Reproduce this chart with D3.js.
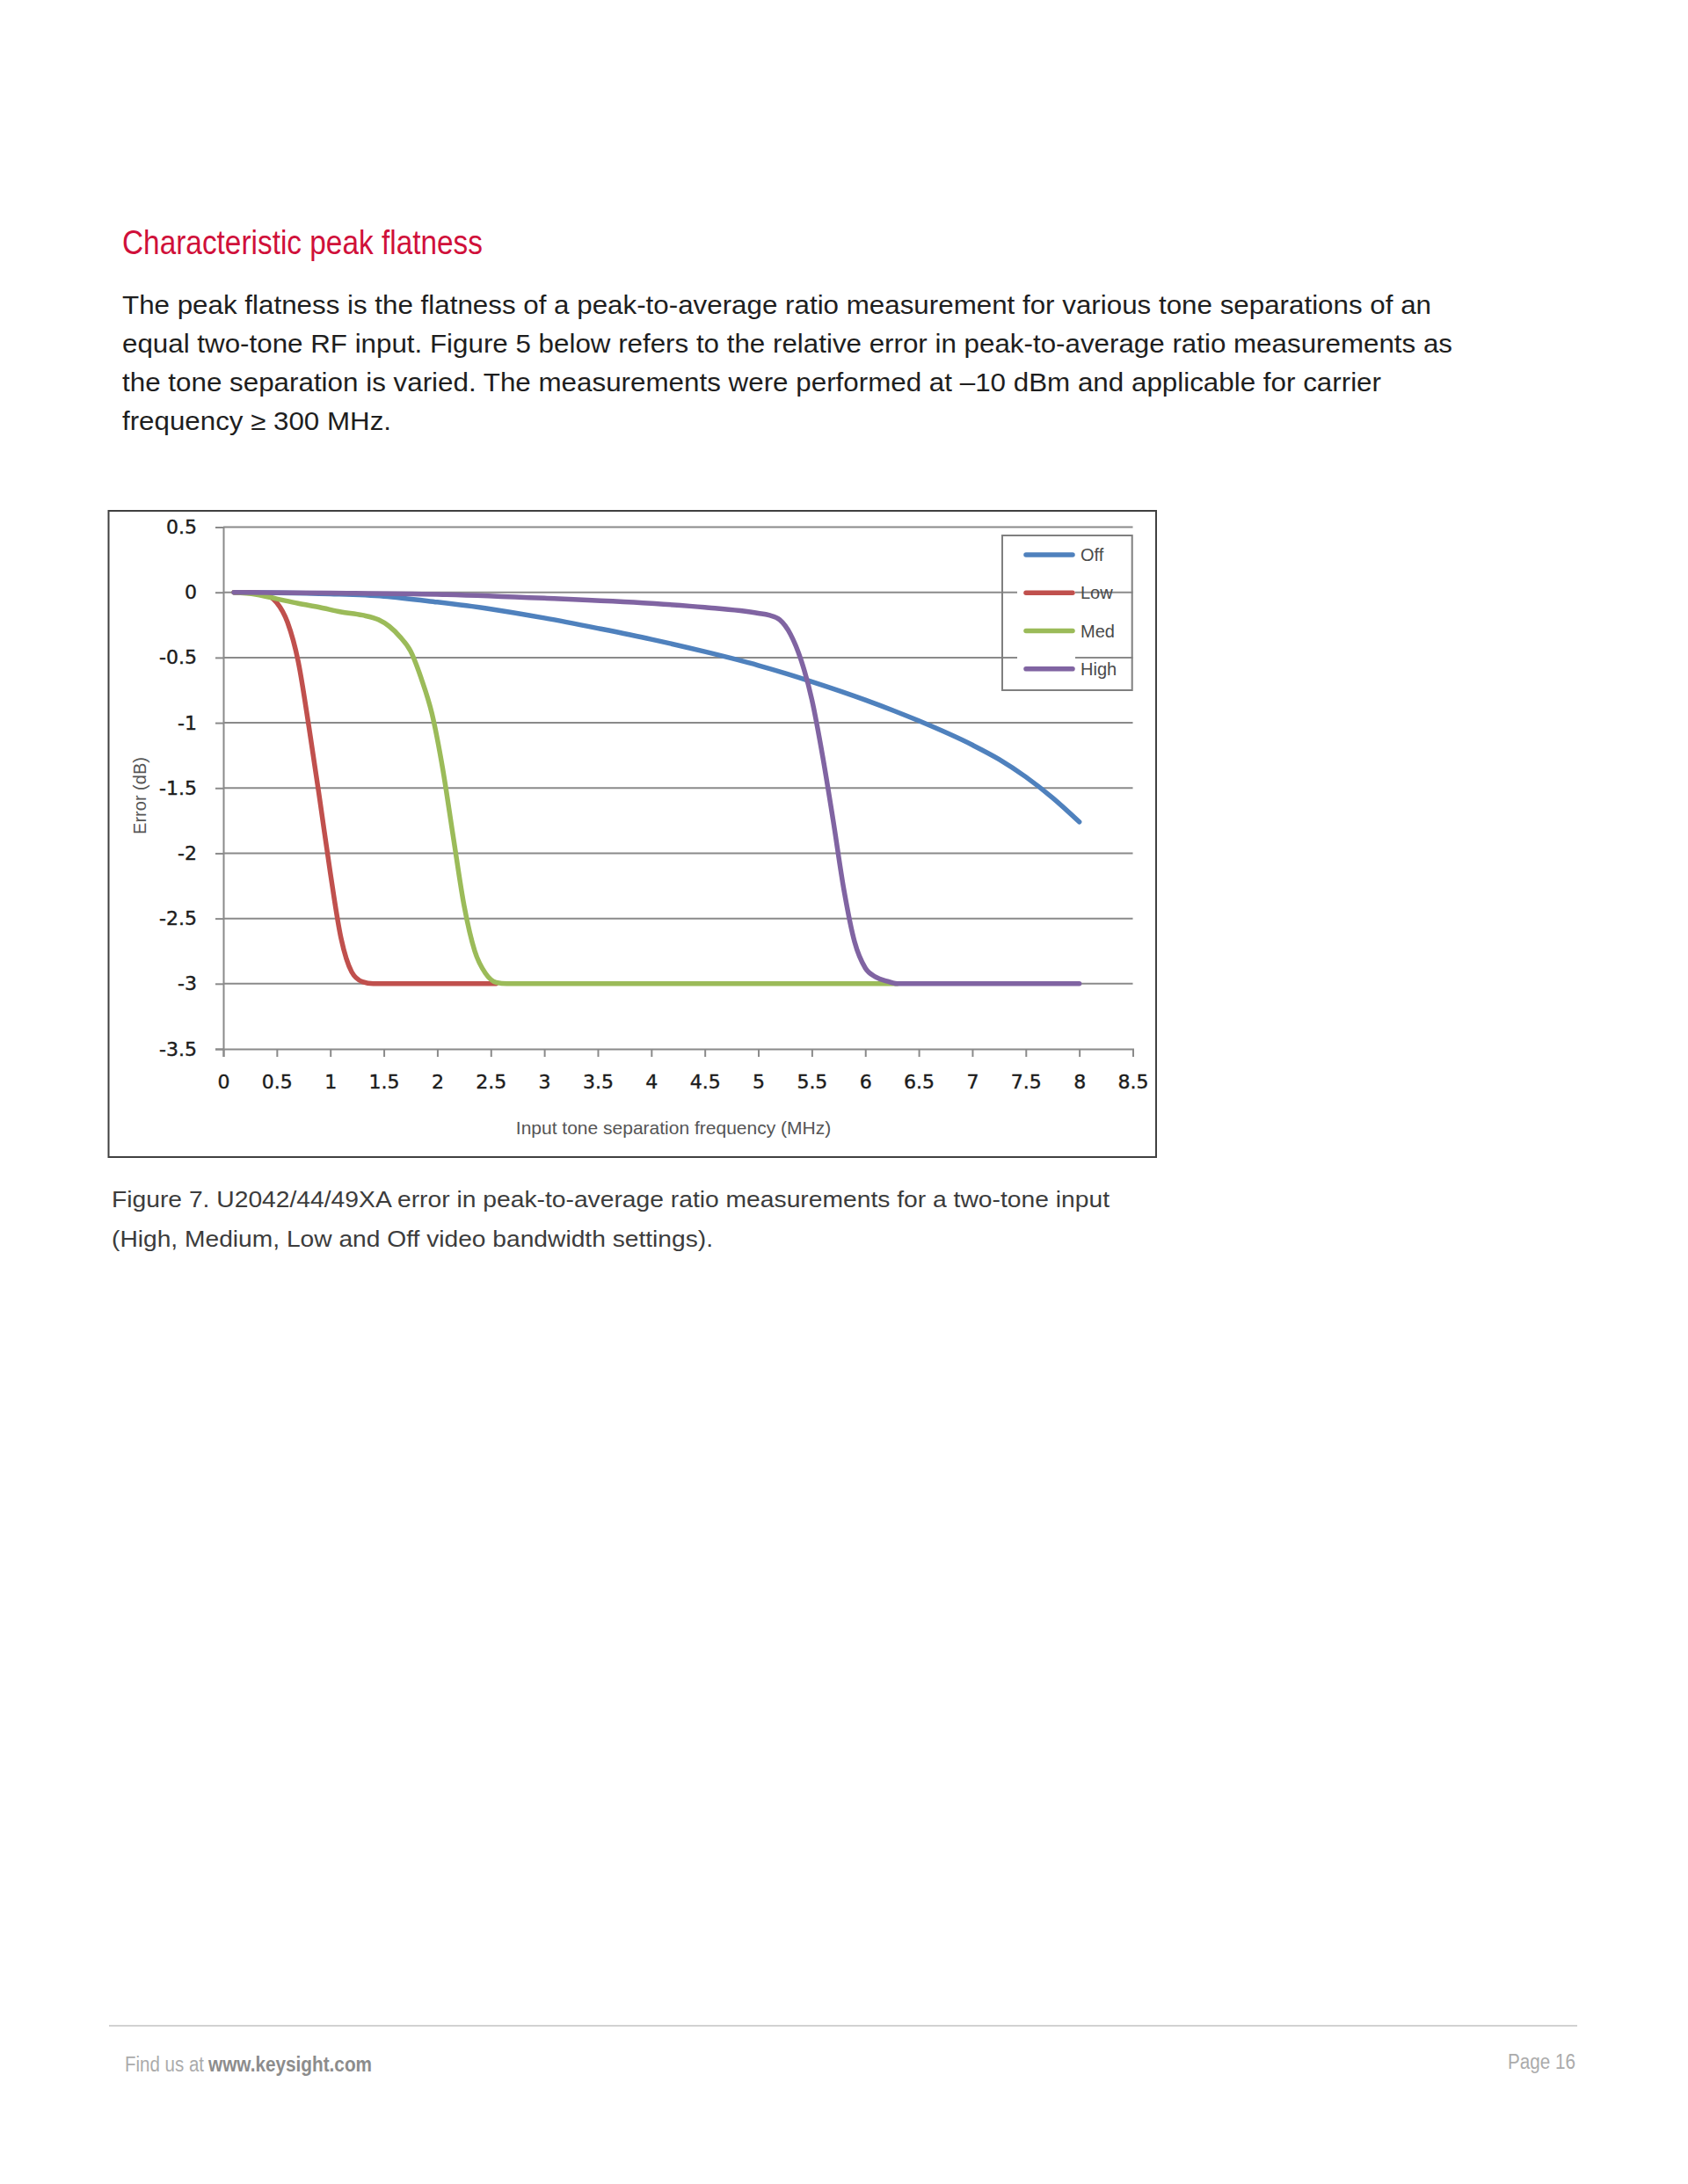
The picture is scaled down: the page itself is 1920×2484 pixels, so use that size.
<!DOCTYPE html>
<html>
<head>
<meta charset="utf-8">
<script src="https://cdn.jsdelivr.net/npm/d3@7"></script>
<style>
  body { margin: 0; background: #fff; }
  svg { display: block; }
</style>
</head>
<body>
<div id="root"></div>
<script>
const xTicks = [0, 0.5, 1, 1.5, 2, 2.5, 3, 3.5, 4, 4.5, 5, 5.5, 6, 6.5, 7, 7.5, 8, 8.5];
const yTicks = [0.5, 0, -0.5, -1, -1.5, -2, -2.5, -3, -3.5];
const seriesNames = ["Off", "Low", "Med", "High"];

// [tone separation (MHz), error (dB)]
const offValues = [
  [0.1, 0], [0.5, -0.003], [1, -0.012], [1.5, -0.03], [2, -0.075], [2.5, -0.128],
  [3, -0.197], [3.5, -0.276], [4, -0.36], [4.5, -0.455], [5, -0.56], [5.5, -0.685],
  [6, -0.825], [6.5, -0.985], [7, -1.17], [7.25, -1.28], [7.5, -1.415],
  [7.75, -1.575], [8, -1.76],
];
const lowValues = [
  [0.1, 0], [0.3, -0.004], [0.4, -0.015], [0.45, -0.04], [0.5, -0.08], [0.6, -0.23],
  [0.7, -0.53], [0.8, -1.03], [0.9, -1.58], [1, -2.15], [1.1, -2.65], [1.2, -2.91],
  [1.3, -2.985], [1.4, -3], [2, -3], [2.55, -3],
];
const medValues = [
  [0.1, 0], [0.3, -0.015], [0.5, -0.05], [0.7, -0.085], [0.9, -0.115], [1.1, -0.15],
  [1.3, -0.175], [1.45, -0.21], [1.55, -0.26], [1.65, -0.34], [1.75, -0.45],
  [1.85, -0.66], [1.95, -0.93], [2.05, -1.35], [2.15, -1.88], [2.25, -2.4],
  [2.35, -2.75], [2.45, -2.92], [2.55, -2.99], [2.65, -3], [4, -3], [5, -3], [6.3, -3],
];
const highValues = [
  [0.1, 0], [1, -0.005], [2, -0.015], [3, -0.045], [4, -0.085], [4.5, -0.115],
  [5, -0.16], [5.1, -0.175], [5.2, -0.21], [5.3, -0.32], [5.4, -0.52], [5.5, -0.82],
  [5.6, -1.25], [5.7, -1.75], [5.8, -2.28], [5.9, -2.68], [6, -2.88], [6.1, -2.95],
  [6.2, -2.98], [6.3, -3], [7, -3], [8, -3],
];
const seriesValues = [offValues, lowValues, medValues, highValues];
const seriesColors = ["#4f81bd", "#c0504d", "#9bbb59", "#8064a2"];

const titleText = "Characteristic peak flatness";
const bodyLines = [
  "The peak flatness is the flatness of a peak-to-average ratio measurement for various tone separations of an",
  "equal two-tone RF input. Figure 5 below refers to the relative error in peak-to-average ratio measurements as",
  "the tone separation is varied. The measurements were performed at \u201310 dBm and applicable for carrier",
  "frequency \u2265 300 MHz.",
];
const captionLines = [
  "Figure 7. U2042/44/49XA error in peak-to-average ratio measurements for a two-tone input",
  "(High, Medium, Low and Off video bandwidth settings).",
];

pageFigure(window.d3);

function pageFigure(d3) {
  const width = 1920;
  const height = 2484;

  const svg = d3.select("#root").append("svg")
    .attr("width", width)
    .attr("height", height);

  const sans = "'Liberation Sans', Arial, Helvetica, sans-serif";

  // heading and paragraph
  svg.append("text")
    .attr("x", 139)
    .attr("y", 289)
    .attr("font-family", sans)
    .attr("font-size", 39)
    .attr("fill", "#d0103a")
    .attr("textLength", 410)
    .attr("lengthAdjust", "spacingAndGlyphs")
    .text(titleText);

  const bodyWidths = [1489, 1513, 1432, 306];
  svg.append("g")
    .selectAll("text")
    .data(bodyLines)
    .join("text")
    .attr("x", 139)
    .attr("y", (d, i) => 357 + i * 44)
    .attr("font-family", sans)
    .attr("font-size", 29)
    .attr("fill", "#1e1e1e")
    .attr("textLength", (d, i) => bodyWidths[i])
    .attr("lengthAdjust", "spacingAndGlyphs")
    .text(d => d);

  // chart frame
  svg.append("rect")
    .attr("x", 123.5)
    .attr("y", 581)
    .attr("width", 1191.5)
    .attr("height", 735)
    .attr("fill", "none")
    .attr("stroke", "#404040")
    .attr("stroke-width", 2);

  const x = d3.scaleLinear().domain([0, 8.5]).range([254, 1288.5]);
  const y = d3.scaleLinear().domain([-3.5, 0.5]).range([1193, 599.5]);

  const grid = svg.append("g");
  grid.selectAll("line")
    .data(yTicks.filter(d => d !== -3.5))
    .join("line")
    .attr("x1", x(0))
    .attr("x2", x(8.5))
    .attr("y1", d => y(d))
    .attr("y2", d => y(d))
    .attr("stroke", "#8a8a8a")
    .attr("stroke-width", 2);

  const tickFont = "'DejaVu Sans', Verdana, sans-serif";

  const yAxis = svg.append("g")
    .attr("transform", `translate(${x(0)},0)`)
    .call(d3.axisLeft(y).tickValues(yTicks).tickSize(9).tickPadding(21).tickFormat(d => String(d)));

  const xAxis = svg.append("g")
    .attr("transform", `translate(0,${y(-3.5)})`)
    .call(d3.axisBottom(x).tickValues(xTicks).tickSize(9).tickPadding(20).tickFormat(d => String(d)));

  [yAxis, xAxis].forEach(axis => {
    axis.select(".domain").attr("stroke", "#8a8a8a").attr("stroke-width", 2);
    axis.selectAll(".tick line").attr("stroke", "#8a8a8a").attr("stroke-width", 2);
    axis.selectAll(".tick text")
      .attr("font-family", tickFont)
      .attr("font-size", 22)
      .attr("fill", "#1c1c1c")
      .attr("stroke", "#1c1c1c")
      .attr("stroke-width", 0.4);
  });

  svg.append("text")
    .attr("transform", `translate(166,905) rotate(-90)`)
    .attr("text-anchor", "middle")
    .attr("font-family", sans)
    .attr("font-size", 20)
    .attr("fill", "#555")
    .text("Error (dB)");

  svg.append("text")
    .attr("x", 766)
    .attr("y", 1290)
    .attr("text-anchor", "middle")
    .attr("font-family", sans)
    .attr("font-size", 21)
    .attr("fill", "#555")
    .text("Input tone separation frequency (MHz)");

  // legend: box over the grid, white patches behind the swatches
  const legendRowY = [631, 674.3, 717.5, 760.8];
  const legend = svg.append("g");
  legend.append("rect")
    .attr("x", 1140)
    .attr("y", 609)
    .attr("width", 147.7)
    .attr("height", 176)
    .attr("fill", "none")
    .attr("stroke", "#7f7f7f")
    .attr("stroke-width", 2);

  const items = legend.selectAll("g.item")
    .data(seriesNames)
    .join("g")
    .attr("class", "item")
    .attr("transform", (d, i) => `translate(0,${legendRowY[i]})`);

  items.append("rect")
    .attr("x", 1157)
    .attr("y", -15)
    .attr("width", 66)
    .attr("height", 30)
    .attr("fill", "#fff");

  items.append("line")
    .attr("x1", 1167)
    .attr("x2", 1220)
    .attr("stroke", (d, i) => seriesColors[i])
    .attr("stroke-width", 5.5)
    .attr("stroke-linecap", "round");

  items.append("text")
    .attr("x", 1229)
    .attr("dy", "0.35em")
    .attr("font-family", sans)
    .attr("font-size", 20)
    .attr("fill", "#4a4a4a")
    .text(d => d);

  // series
  const line = d3.line()
    .x(d => x(d[0]))
    .y(d => y(d[1]))
    .curve(d3.curveMonotoneX);

  svg.append("g")
    .selectAll("path")
    .data(seriesValues)
    .join("path")
    .attr("d", line)
    .attr("fill", "none")
    .attr("stroke", (d, i) => seriesColors[i])
    .attr("stroke-width", 5.5)
    .attr("stroke-linecap", "round")
    .attr("stroke-linejoin", "round");

  // caption
  const captionWidths = [1135, 684];
  svg.append("g")
    .selectAll("text")
    .data(captionLines)
    .join("text")
    .attr("x", 127)
    .attr("y", (d, i) => 1373 + i * 45)
    .attr("font-family", sans)
    .attr("font-size", 25)
    .attr("fill", "#3c3c3c")
    .attr("textLength", (d, i) => captionWidths[i])
    .attr("lengthAdjust", "spacingAndGlyphs")
    .text(d => d);

  // footer
  svg.append("line")
    .attr("x1", 124)
    .attr("x2", 1794)
    .attr("y1", 2304)
    .attr("y2", 2304)
    .attr("stroke", "#d2d2d2")
    .attr("stroke-width", 2);

  svg.append("text")
    .attr("x", 142)
    .attr("y", 2356)
    .attr("font-family", sans)
    .attr("font-size", 23)
    .attr("fill", "#ababab")
    .attr("textLength", 90)
    .attr("lengthAdjust", "spacingAndGlyphs")
    .text("Find us at");

  svg.append("text")
    .attr("x", 237)
    .attr("y", 2356)
    .attr("font-family", sans)
    .attr("font-size", 23)
    .attr("font-weight", "bold")
    .attr("fill", "#8c8c8c")
    .attr("textLength", 186)
    .attr("lengthAdjust", "spacingAndGlyphs")
    .text("www.keysight.com");

  svg.append("text")
    .attr("x", 1792)
    .attr("y", 2353)
    .attr("text-anchor", "end")
    .attr("font-family", sans)
    .attr("font-size", 23)
    .attr("fill", "#ababab")
    .attr("textLength", 77)
    .attr("lengthAdjust", "spacingAndGlyphs")
    .text("Page 16");
}
</script>
</body>
</html>
